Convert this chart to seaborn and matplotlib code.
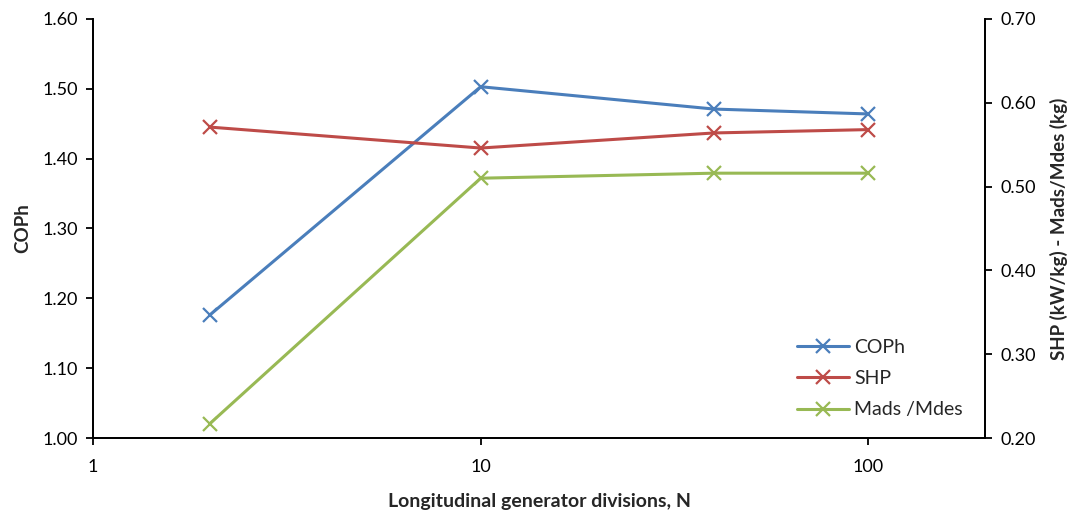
import matplotlib
matplotlib.use("Agg")
import matplotlib.pyplot as plt
import seaborn as sns
import pandas as pd
from matplotlib.ticker import FixedLocator, FixedFormatter, NullLocator

# Data: number of longitudinal generator divisions and the resulting metrics
divisions = [2, 10, 40, 100]
coph = [1.176, 1.503, 1.471, 1.464]
shp = [0.571, 0.546, 0.564, 0.568]
mads_mdes = [0.217, 0.510, 0.516, 0.516]

x_ticks = [1, 10, 100]
x_tick_labels = ["1", "10", "100"]
left_ticks = [1.00, 1.10, 1.20, 1.30, 1.40, 1.50, 1.60]
right_ticks = [0.20, 0.30, 0.40, 0.50, 0.60, 0.70]

sns.set_style("ticks")
plt.rcParams["font.family"] = ["Lato", "DejaVu Sans"]

BLUE = "#4A7EBB"
RED = "#BE4B48"
GREEN = "#98B954"

df = pd.DataFrame({"N": divisions, "COPh": coph, "SHP": shp, "Mads /Mdes": mads_mdes})

fig = plt.figure(figsize=(10.92, 5.17), dpi=100)
ax = fig.add_axes([0.0852, 0.1528, 0.902 - 0.0852, 0.9633 - 0.1528])
ax2 = ax.twinx()

line_kw = dict(marker="x", markersize=10, markeredgewidth=1.6, linewidth=2.2)
sns.lineplot(data=df, x="N", y="COPh", ax=ax, color=BLUE, label="COPh", legend=False,
             markeredgecolor=BLUE, **line_kw)
sns.lineplot(data=df, x="N", y="SHP", ax=ax2, color=RED, label="SHP", legend=False,
             markeredgecolor=RED, **line_kw)
sns.lineplot(data=df, x="N", y="Mads /Mdes", ax=ax2, color=GREEN, label="Mads /Mdes", legend=False,
             markeredgecolor=GREEN, **line_kw)

for a in (ax, ax2):
    a.set_xscale("log")
    a.set_xlim(1, 200)
    a.spines["top"].set_visible(False)
    for s in ("left", "right", "bottom"):
        a.spines[s].set_linewidth(1.3)
        a.spines[s].set_color("black")

ax.xaxis.set_major_locator(FixedLocator(x_ticks))
ax.xaxis.set_major_formatter(FixedFormatter(x_tick_labels))
ax.xaxis.set_minor_locator(NullLocator())

ax.set_ylim(1.0, 1.6)
ax.set_yticks(left_ticks)
ax.set_yticklabels([f"{v:.2f}" for v in left_ticks])
ax2.set_ylim(0.2, 0.7)
ax2.set_yticks(right_ticks)
ax2.set_yticklabels([f"{v:.2f}" for v in right_ticks])

ax.tick_params(axis="both", which="major", direction="out", labelsize=13, length=5,
               width=1.3, color="black", labelcolor="black", pad=6)
ax.tick_params(axis="x", bottom=True, pad=10)
ax.tick_params(axis="y", left=True)
ax2.tick_params(axis="y", which="major", direction="out", right=True, labelsize=13, length=5,
                width=1.3, color="black", labelcolor="black", pad=6)

ax.set_xlabel("Longitudinal generator divisions, N", fontsize=14, fontweight="bold", labelpad=13)
ax.set_ylabel("COPh", fontsize=13.5, fontweight="bold", labelpad=8)
ax2.set_ylabel("SHP (kW/kg) - Mads/Mdes (kg)", fontsize=13.5, fontweight="bold", labelpad=10)

handles = ax.get_lines()[:1] + ax2.get_lines()[:2]
labels = ["COPh", "SHP", "Mads /Mdes"]
ax2.legend(handles, labels, loc="lower right", bbox_to_anchor=(0.995, 0.005),
           frameon=False, fontsize=14, handlelength=2.67, labelspacing=0.73,
           handletextpad=0.28)

fig.savefig("out.png", dpi=100, facecolor="white")
